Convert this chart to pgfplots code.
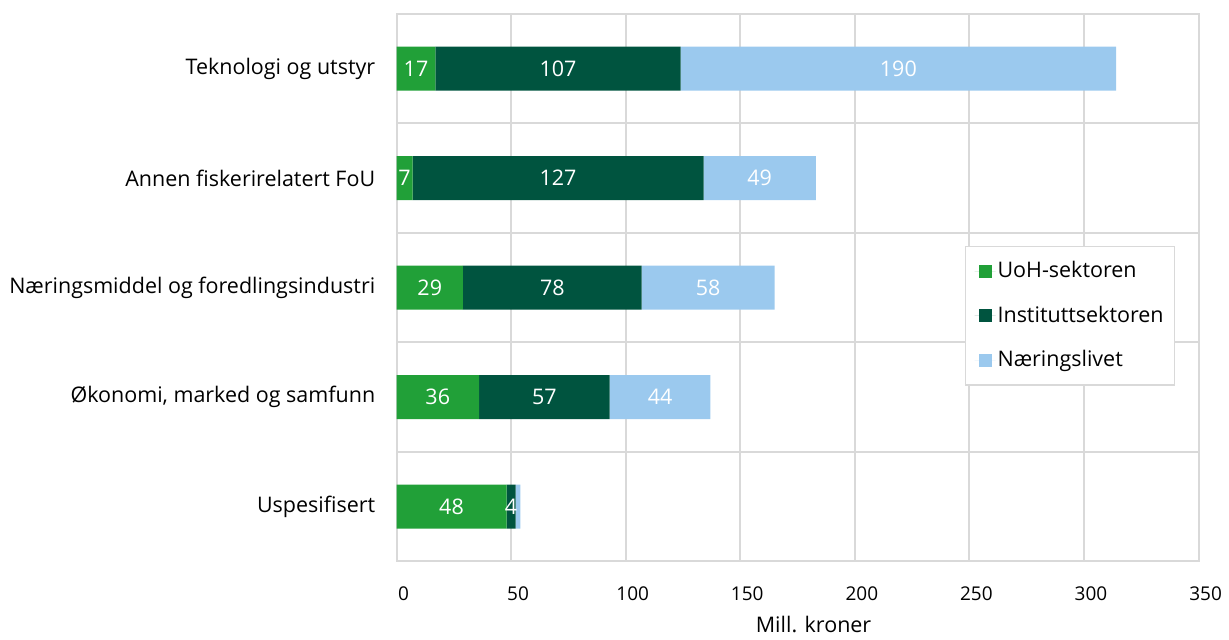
\documentclass[border=0pt]{standalone}
\usepackage{fontspec}
\setmainfont{Open Sans}
\usepackage{pgfplots}
\pgfplotsset{compat=1.18}
\definecolor{uoh}{HTML}{21A038}
\definecolor{inst}{HTML}{00543F}
\definecolor{naer}{HTML}{9BC9EE}
\definecolor{gridgray}{HTML}{D9D9D9}
\begin{document}
\fontsize{21.5}{26}\selectfont
\begin{tikzpicture}
\begin{axis}[
  scale only axis, width=803pt, height=548pt,
  xbar stacked, bar width=44pt,
  xmin=0, xmax=350, ymin=-0.5, ymax=4.5, y dir=reverse,
  xtick={0,50,...,350},
  xmajorgrids, major grid style={gridgray, line width=2pt},
  ytick={0,...,4},
  yticklabels={Teknologi og utstyr, Annen fiskerirelatert FoU, Næringsmiddel og foredlingsindustri, {Økonomi, marked og samfunn}, Uspesifisert},
  minor ytick={0.5,1.5,2.5,3.5}, yminorgrids, minor grid style={gridgray, line width=2pt},
  tick style={draw=none},
  axis line style={gridgray, line width=2pt},
  /pgf/number format/assume math mode=true,
  xticklabel style={font=\fontsize{19}{23}\selectfont, yshift=-18pt, xshift=7pt},
  yticklabel style={font=\fontsize{21.5}{26}\selectfont, xshift=-14pt},
  xlabel={Mill. kroner},
  xlabel style={font=\fontsize{21.5}{26}\selectfont, xshift=16pt, yshift=-1pt},
  point meta=explicit symbolic,
  nodes near coords,
  nodes near coords style={font=\fontsize{21.5}{26}\selectfont, text=white, anchor=center},
  legend cell align=left,
  legend style={font=\fontsize{21.5}{26}\selectfont, at={(rel axis cs:0.7086,0.5766)}, anchor=north west, draw=gridgray, line width=1.5pt, row sep=21pt, inner xsep=9pt, inner ysep=13pt},
  legend image code/.code={\path (0pt,0pt) -- (21pt,0pt); \fill[#1, draw=none] (4pt,-6.5pt) rectangle (17pt,6.5pt);},
]
\addplot[fill=uoh, draw=none] coordinates {(17,0) [17] (7,1) [7] (29,2) [29] (36,3) [36] (48,4) [48]};
\addlegendentry{UoH-sektoren}
\addplot[fill=inst, draw=none] coordinates {(107,0) [107] (127,1) [127] (78,2) [78] (57,3) [57] (4,4) [4]};
\addlegendentry{Instituttsektoren}
\addplot[fill=naer, draw=none] coordinates {(190,0) [190] (49,1) [49] (58,2) [58] (44,3) [44] (2,4) []};
\addlegendentry{Næringslivet}
\end{axis}
\path (-397pt,-74pt) rectangle (832pt,562pt);
\end{tikzpicture}
\end{document}
